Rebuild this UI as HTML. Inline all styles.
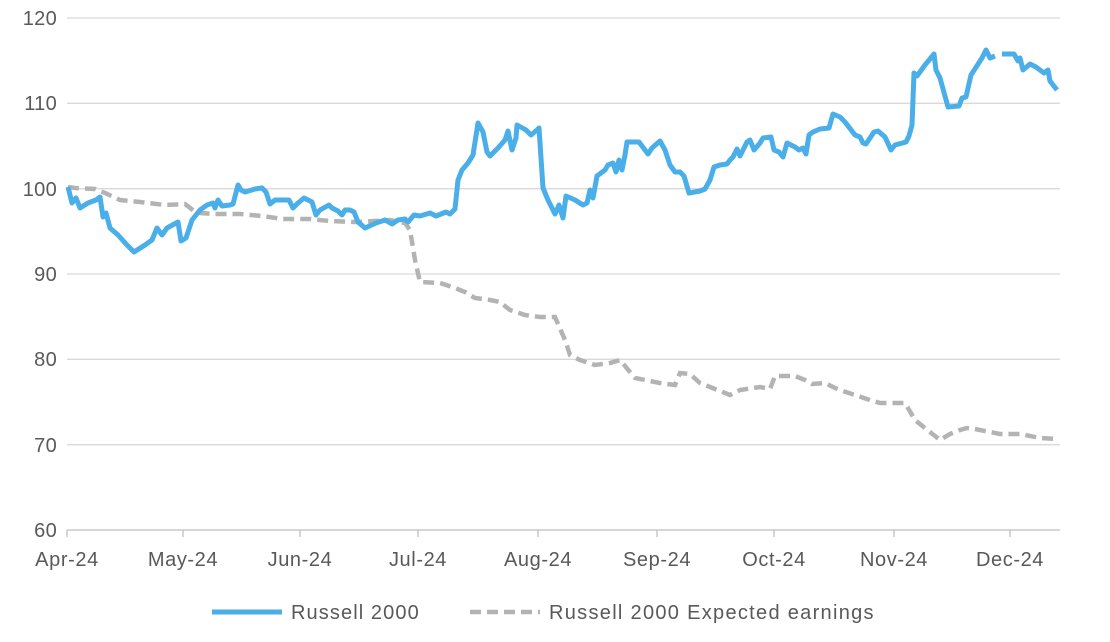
<!DOCTYPE html>
<html><head><style>body{margin:0;background:#fff}svg{display:block;font-family:"Liberation Sans",sans-serif}</style></head><body>
<svg width="1110" height="642" viewBox="0 0 1110 642">
<g stroke="#d9d9d9" stroke-width="1.3">
<line x1="67" x2="1060" y1="18" y2="18"/><line x1="67" x2="1060" y1="103.3" y2="103.3"/><line x1="67" x2="1060" y1="188.7" y2="188.7"/><line x1="67" x2="1060" y1="274" y2="274"/><line x1="67" x2="1060" y1="359.3" y2="359.3"/><line x1="67" x2="1060" y1="444.7" y2="444.7"/>
</g>
<line x1="67" x2="1060" y1="530" y2="530" stroke="#bfbfbf" stroke-width="1.3"/>
<g stroke="#bfbfbf" stroke-width="1.3">
<line x1="67" x2="67" y1="530" y2="537"/><line x1="183" x2="183" y1="530" y2="537"/><line x1="300" x2="300" y1="530" y2="537"/><line x1="418" x2="418" y1="530" y2="537"/><line x1="538" x2="538" y1="530" y2="537"/><line x1="657" x2="657" y1="530" y2="537"/><line x1="774" x2="774" y1="530" y2="537"/><line x1="894" x2="894" y1="530" y2="537"/><line x1="1010" x2="1010" y1="530" y2="537"/>
</g>
<g fill="#595959" font-size="20" text-anchor="end" letter-spacing="0.3">
<text x="57" y="25">120</text><text x="57" y="110">110</text><text x="57" y="196">100</text><text x="57" y="281">90</text><text x="57" y="366">80</text><text x="57" y="452">70</text><text x="57" y="537">60</text>
</g>
<g fill="#595959" font-size="20" text-anchor="middle" letter-spacing="0.6">
<text x="67" y="566">Apr-24</text><text x="183" y="566">May-24</text><text x="300" y="566">Jun-24</text><text x="418" y="566">Jul-24</text><text x="538" y="566">Aug-24</text><text x="657" y="566">Sep-24</text><text x="774" y="566">Oct-24</text><text x="894" y="566">Nov-24</text><text x="1010" y="566">Dec-24</text>
</g>
<polyline fill="none" stroke="#b3b3b3" stroke-width="4.5" stroke-dasharray="11,6" points="68,187 75,188 95,189 105,193 120,200 140,202 165,205 185,204 194,211 200,213 215,214 240,214 262,216 283,219 310,219 330,221 355,222 375,221 390,220 405,223 410,230 415,260 420,282 440,283 455,288 465,292 475,298 490,300 500,302 510,310 525,315 540,317 555,317 565,340 570,355 580,360 595,365 610,363 620,360 635,378 660,383 675,385 680,373 690,374 700,383 715,389 730,395 740,390 760,387 770,389 775,376 795,376 805,380 812,384 825,383 835,388 840,390 855,395 870,400 880,403 905,403 915,420 925,428 935,436 940,440 950,434 960,430 967,428 975,429 990,432 1000,434 1020,434 1040,438 1057,439"/>
<polyline fill="none" stroke="#4aaee8" stroke-width="5" stroke-linejoin="round" points="68,187 72,203 76,198 80,208 88,203 96,200 100,197 103,217 106,213 110,228 118,235 127,245 134,252 145,245 152,240 157,228 162,235 167,228 178,222 181,241 186,238 192,220 200,210 207,205 213,203 215,208 218,200 222,206 230,205 233,204 238,185 241,190 245,192 255,189 262,188 266,192 270,204 275,200 280,200 289,200 293,208 298,203 304,198 312,202 316,215 320,210 329,205 332,208 338,211 342,215 345,210 350,210 354,212 358,222 365,228 376,223 385,220 392,224 398,220 405,219 408,222 414,215 420,216 430,213 436,216 446,212 450,214 455,209 458,180 462,170 468,163 473,155 478,123 483,132 487,152 490,156 498,148 505,140 508,131 512,150 516,138 517,125 526,130 531,135 537,130 539,128 543,188 548,200 555,214 559,205 563,218 566,196 575,200 583,205 587,203 590,190 593,198 597,176 605,170 608,165 613,163 616,172 619,160 622,170 625,155 627,142 635,142 639,142 645,150 648,154 652,148 660,141 665,150 670,165 675,172 680,172 684,176 689,193 700,191 705,189 710,180 714,167 720,165 727,164 730,160 733,157 737,149 740,156 747,142 750,140 754,150 760,143 763,138 771,137 774,150 779,152 783,157 787,143 795,147 799,150 803,148 806,154 809,135 813,132 820,129 829,128 833,114 840,117 845,122 855,135 860,137 863,143 866,144 870,138 874,132 878,131 885,137 891,150 895,145 906,142 909,136 912,125 914,73 917,76 925,65 934,54 936,70 940,78 948,107 959,106 962,98 966,97 971,75 982,58 986,50 990,58 995,56"/>
<polyline fill="none" stroke="#4aaee8" stroke-width="5" stroke-linejoin="round" points="1002,54 1014,54 1018,61 1020,58 1023,70 1030,64 1036,67 1044,73 1048,70 1050,81 1057,90"/>
<line x1="212" x2="282" y1="612" y2="612" stroke="#4aaee8" stroke-width="5"/>
<text x="291" y="619" fill="#595959" font-size="20" letter-spacing="1.1">Russell 2000</text>
<line x1="470" x2="540" y1="612" y2="612" stroke="#b3b3b3" stroke-width="4.5" stroke-dasharray="11,6"/>
<text x="549" y="619" fill="#595959" font-size="20" letter-spacing="1.3">Russell 2000 Expected earnings</text>
</svg>
</body></html>
